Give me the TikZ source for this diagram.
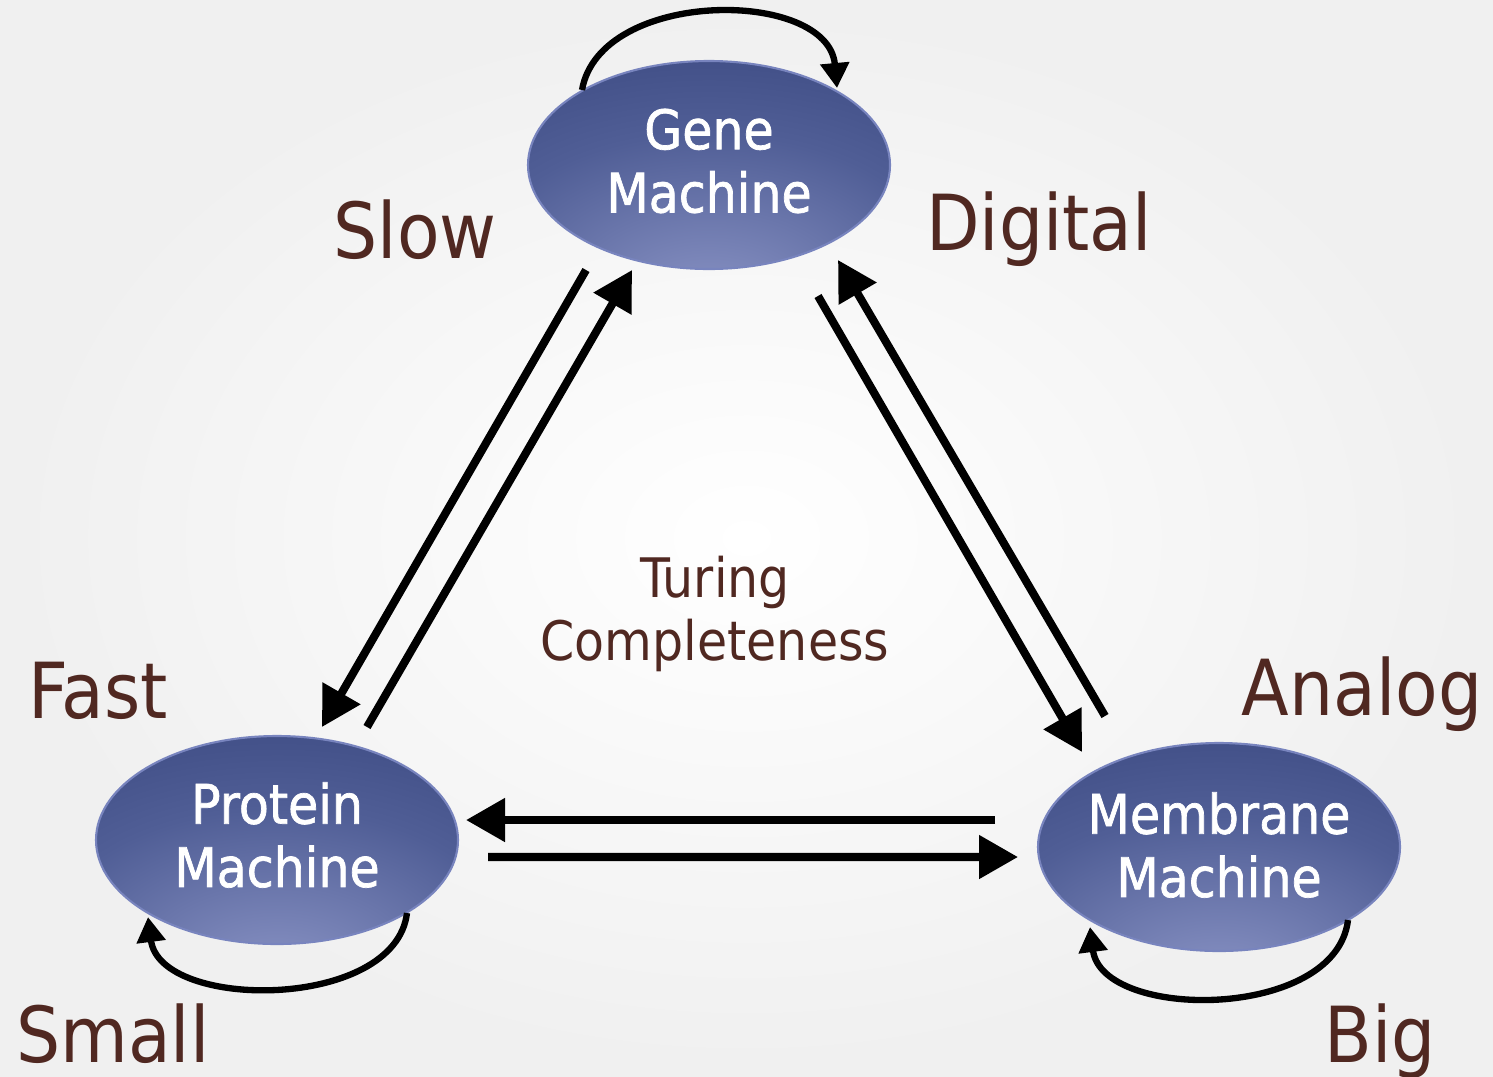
\documentclass[tikz,border=0pt]{standalone}
\usepackage{fontspec}
\setmainfont{DejaVu Sans}[FakeStretch=0.9]
\newfontfamily\machinefont{DejaVu Sans}[FakeStretch=0.9,FakeBold=1.3]
\usetikzlibrary{arrows.meta,shapes.geometric}

\definecolor{labelbrown}{RGB}{80,40,33}
\definecolor{ballin}{RGB}{132,142,192}
\definecolor{ballmid}{RGB}{80,94,150}
\definecolor{ballout}{RGB}{52,66,122}
\definecolor{ballrim}{RGB}{120,132,190}
\pgfdeclareradialshading{machineball}{\pgfpoint{0bp}{-36bp}}{color(0bp)=(ballin); color(5bp)=(ballin); color(32bp)=(ballmid); color(60bp)=(ballout); color(100bp)=(ballout)}

\tikzset{
  machine/.style={ellipse, minimum width=3.62cm, minimum height=2.08cm, inner sep=0pt,
    shade, shading=machineball, draw=ballrim, line width=0.6pt},
  machinetext/.style={text=white, align=center, font=\machinefont\fontsize{15.5}{18}\selectfont},
  bigword/.style={text=labelbrown, anchor=base, font=\fontsize{22}{26}\selectfont},
  flow/.style={line width=2.3pt, -{Triangle[length=0.39cm,width=0.42cm]}},
  selfloop/.style={line width=1.8pt, -{Triangle[length=0.25cm,width=0.28cm]}}
}

\begin{document}
\begin{tikzpicture}

      \useasboundingbox (0,0) rectangle (14.93,-10.76);
      \shade[inner color=white, outer color=black!6] (0,0) rectangle (14.93,-10.76);

      \begin{scope}[every node/.style={machine}]
        \node (gene)     at (7.09,-1.65)  {};
        \node (protein)  at (2.77,-8.40)  {};
        \node (membrane) at (12.19,-8.47) {};
      \end{scope}

      \begin{scope}[every node/.style={machinetext}]
        \node (genetext)     at ([yshift=0.04cm]gene.center)     {Gene\\Machine};
        \node (proteintext)  at ([yshift=0.05cm]protein.center)  {Protein\\Machine};
        \node (membranetext) at ([yshift=0.02cm]membrane.center) {Membrane\\Machine};
      \end{scope}

      \begin{scope}[every node/.style={bigword}]
        \node (slow)    at (4.15,-2.58)  {Slow};
        \node (digital) at (10.39,-2.50) {Digital};
        \node (analog)  at (13.62,-7.15) {Analog};
        \node (fast)    at (0.98,-7.18)  {Fast};
        \node (small)   at (1.13,-10.62) {Small};
        \node (big)     at (13.80,-10.62) {Big};
      \end{scope}

      \node[align=center, text=labelbrown, font=\fontsize{15.5}{18}\selectfont] (turing) at (7.15,-6.14) {Turing\\Completeness};

      \begin{scope}[every path/.style={flow}]
        \draw ([shift={(-1.23,-1.05)}]gene.center) -- ([shift={(0.45,1.13)}]protein.center);
        \draw ([shift={(0.90,1.13)}]protein.center) -- ([shift={(-0.77,-1.05)}]gene.center);
        \draw ([shift={(1.09,-1.31)}]gene.center) -- ([shift={(-1.37,0.95)}]membrane.center);
        \draw ([shift={(-1.14,1.31)}]membrane.center) -- ([shift={(1.29,-0.95)}]gene.center);
        \draw ([shift={(-2.24,0.27)}]membrane.center) -- ([shift={(1.89,0.20)}]protein.center);
        \draw ([shift={(2.11,-0.17)}]protein.center) -- ([shift={(-2.01,-0.10)}]membrane.center);
      \end{scope}

      \begin{scope}[every path/.style={selfloop}]
        \draw ([shift={(-1.27,0.75)}]gene.center) .. controls +(0.18,1.02) and +(-0.09,1.0) .. ([shift={(1.28,0.77)}]gene.center);
        \draw ([shift={(1.30,-0.73)}]protein.center) .. controls +(-0.12,-0.98) and +(0.12,-0.94) .. ([shift={(-1.29,-0.77)}]protein.center);
        \draw ([shift={(1.29,-0.73)}]membrane.center) .. controls +(-0.12,-1.01) and +(0.12,-0.94) .. ([shift={(-1.29,-0.80)}]membrane.center);
      \end{scope}

    \end{tikzpicture}
\end{document}
